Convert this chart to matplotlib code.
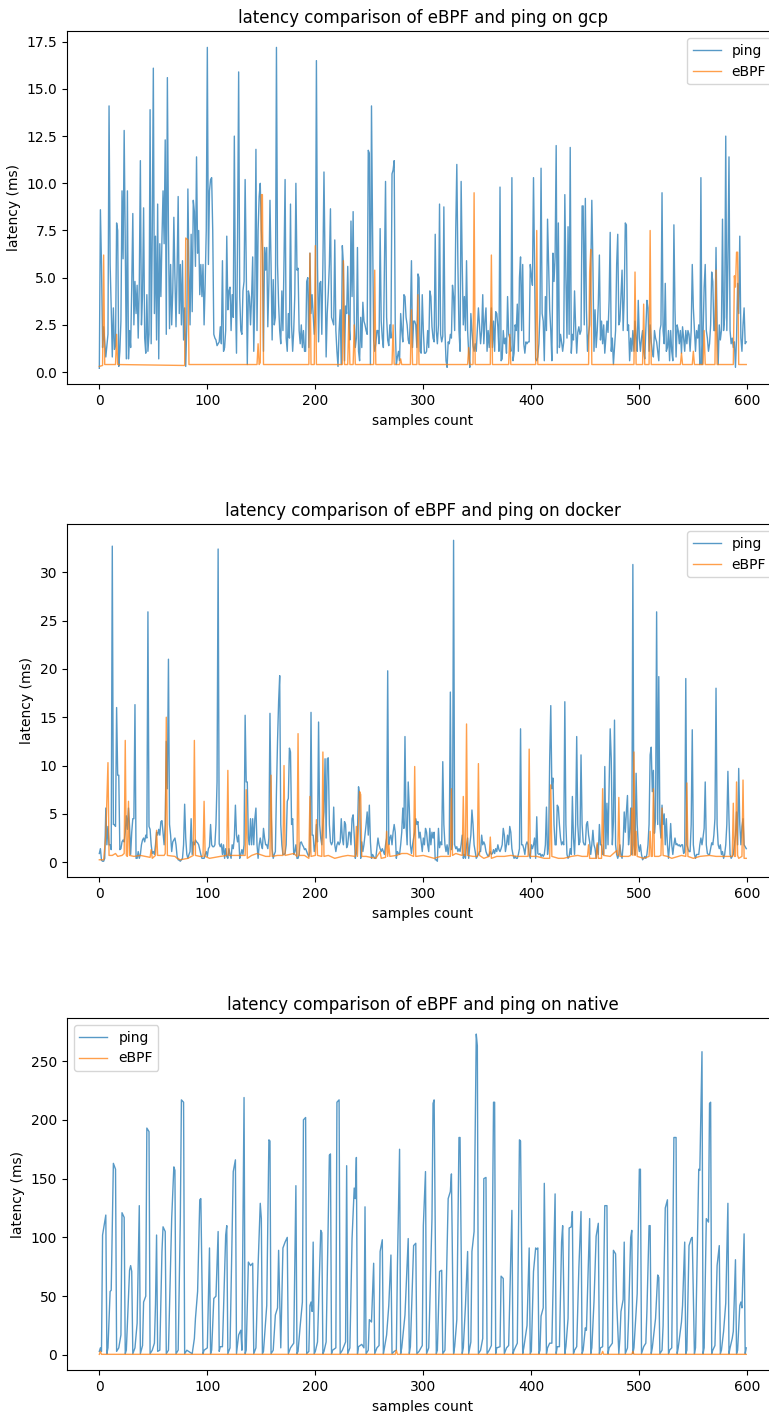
#!/usr/bin/env python3
"""
Latency comparison of eBPF and ping on three setups (gcp, docker, native).
"""

import numpy as np
import matplotlib
matplotlib.use('Agg')
import matplotlib.pyplot as plt


# gcp: ping latency per sample (ms)
GCP_PING = [
    0.2, 8.6, 5.7, 1.3, 2.4, 1.6, 0.8, 1.4, 2.0, 14.1,
    5.7, 3.4, 0.8, 3.4, 1.2, 1.4, 7.9, 7.5, 0.3, 1.1,
    2.7, 9.6, 6.0, 12.8, 6.8, 0.7, 9.6, 0.7, 2.2, 1.3,
    4.5, 8.4, 2.5, 4.8, 3.1, 4.6, 1.8, 4.7, 11.2, 2.5,
    4.1, 8.7, 1.8, 1.0, 4.1, 1.1, 2.0, 13.9, 1.5, 7.2,
    16.1, 3.1, 7.2, 1.7, 8.9, 0.7, 6.8, 4.0, 7.1, 9.6,
    6.8, 12.3, 2.0, 15.6, 7.5, 2.3, 5.7, 2.5, 4.3, 8.2,
    5.0, 2.4, 5.3, 9.3, 3.1, 5.7, 2.5, 5.9, 1.7, 3.4,
    0.3, 2.5, 9.7, 5.4, 2.5, 7.3, 3.2, 9.1, 8.5, 5.6,
    11.4, 6.3, 7.5, 4.1, 5.7, 4.0, 5.7, 2.5, 4.7, 7.5,
    17.2, 5.7, 9.6, 10.2, 10.3, 7.5, 2.0, 1.8, 1.7, 1.4,
    1.5, 1.6, 2.4, 1.5, 5.9, 1.1, 1.3, 2.2, 7.2, 3.3,
    4.3, 4.5, 2.2, 4.1, 2.9, 12.5, 4.0, 1.0, 7.2, 15.9,
    4.0, 2.2, 2.0, 4.3, 4.8, 10.2, 5.7, 0.4, 4.3, 4.0,
    2.5, 4.0, 6.1, 1.1, 4.1, 11.8, 2.2, 7.5, 9.3, 10.0,
    7.5, 6.4, 1.1, 6.6, 5.4, 6.6, 2.4, 4.7, 9.1, 5.7,
    1.7, 4.9, 2.5, 2.9, 17.2, 5.7, 3.6, 2.2, 1.5, 4.3,
    2.2, 5.9, 10.2, 1.8, 1.1, 3.1, 1.8, 8.9, 2.5, 1.1,
    2.2, 4.1, 10.0, 5.4, 5.5, 2.2, 1.5, 2.5, 1.3, 2.2,
    1.1, 1.1, 4.8, 5.0, 1.3, 6.3, 3.1, 4.1, 3.1, 2.0,
    3.0, 16.5, 5.7, 1.6, 4.7, 4.8, 2.0, 5.7, 10.6, 5.7,
    0.8, 3.1, 4.2, 5.7, 8.65, 2.9, 2.7, 2.5, 7.0, 2.2,
    1.1, 0.3, 2.2, 3.3, 0.4, 6.7, 5.7, 0.6, 3.5, 3.1,
    5.6, 2.7, 1.7, 8.0, 4.0, 8.5, 2.7, 1.3, 1.8, 6.6,
    1.1, 0.6, 2.9, 1.3, 3.7, 2.7, 2.5, 2.2, 2.0, 11.75,
    11.6, 0.4, 14.1, 7.5, 1.7, 1.1, 1.5, 2.2, 2.2, 1.5,
    7.6, 2.7, 1.8, 1.3, 5.7, 10.1, 2.9, 1.7, 1.4, 2.5,
    1.8, 10.5, 10.7, 11.2, 2.4, 0.4, 0.8, 1.1, 0.6, 3.1,
    2.2, 1.6, 4.1, 4.0, 2.9, 2.5, 1.7, 1.5, 2.9, 5.9,
    1.3, 2.7, 2.7, 2.5, 1.3, 5.2, 5.0, 1.1, 1.0, 4.1,
    2.2, 1.0, 1.0, 1.1, 2.2, 1.3, 4.3, 4.0, 2.4, 1.8,
    1.6, 7.3, 2.2, 1.5, 2.5, 8.9, 2.0, 1.6, 1.9, 8.75,
    2.2, 0.6, 0.25, 1.6, 1.5, 2.0, 1.8, 4.6, 4.0, 2.2,
    7.5, 11.0, 5.7, 2.2, 1.1, 10.1, 5.7, 2.5, 4.0, 2.2,
    5.9, 2.2, 1.0, 0.25, 3.1, 2.2, 1.4, 1.1, 1.5, 1.1,
    2.2, 3.4, 2.5, 1.5, 2.2, 4.1, 1.5, 2.7, 3.4, 1.1,
    2.2, 1.3, 2.4, 3.4, 1.3, 2.7, 1.1, 3.2, 3.1, 2.4,
    1.1, 9.8, 0.6, 0.7, 2.2, 1.5, 1.8, 1.0, 4.0, 2.0,
    1.8, 1.1, 10.3, 0.6, 1.0, 2.5, 2.2, 3.6, 1.1, 5.0,
    6.1, 2.2, 5.7, 1.5, 1.0, 1.6, 1.5, 1.6, 1.6, 5.7,
    5.1, 4.6, 10.3, 5.5, 0.7, 0.6, 0.8, 1.5, 3.1, 10.8,
    3.1, 2.7, 0.6, 4.0, 2.2, 8.1, 5.6, 3.3, 2.2, 0.6,
    6.3, 4.8, 6.1, 12.0, 1.0, 7.9, 1.3, 2.0, 1.6, 1.1,
    1.6, 9.4, 5.0, 1.8, 7.7, 2.0, 11.9, 1.0, 2.0, 1.7,
    4.3, 2.4, 1.0, 2.1, 2.4, 2.0, 2.2, 8.8, 8.8, 2.5,
    9.2, 3.3, 1.1, 2.0, 2.5, 5.4, 9.1, 5.7, 1.1, 3.3,
    1.3, 2.2, 3.6, 6.2, 1.7, 2.7, 1.5, 2.5, 1.0, 1.8,
    2.7, 2.1, 3.8, 7.4, 1.1, 1.8, 0.4, 1.3, 2.2, 5.7,
    7.3, 2.5, 2.7, 4.0, 5.4, 2.2, 4.0, 7.9, 7.8, 2.2,
    2.5, 0.6, 1.8, 1.1, 2.2, 1.1, 2.7, 1.8, 1.1, 3.8,
    1.8, 1.1, 1.8, 2.2, 1.1, 0.7, 2.2, 3.8, 3.4, 1.1,
    2.5, 1.6, 1.1, 0.8, 2.2, 1.8, 1.6, 1.1, 0.6, 2.2,
    2.5, 9.5, 2.2, 1.5, 4.7, 1.1, 1.3, 2.2, 0.6, 2.2,
    1.1, 0.6, 7.8, 3.3, 0.8, 2.5, 2.2, 1.5, 2.2, 1.0,
    2.4, 1.8, 1.1, 2.2, 1.5, 2.2, 2.0, 1.1, 2.2, 5.7,
    3.4, 2.2, 1.1, 2.2, 1.8, 2.5, 0.4, 10.3, 0.4, 2.0,
    4.5, 5.7, 2.2, 1.8, 1.1, 1.5, 2.5, 5.3, 4.8, 2.2,
    2.2, 6.6, 2.2, 0.4, 2.5, 1.7, 2.2, 8.1, 2.2, 2.9,
    12.5, 2.2, 5.7, 11.4, 2.2, 1.5, 1.8, 1.3, 1.6, 0.25,
    1.8, 4.7, 3.1, 7.2, 1.8, 1.1, 2.5, 3.4, 1.5, 1.6,
]

# gcp: eBPF latency, sample index and value where the trace changes
GCP_EBPF_X = [
    0, 3, 4, 5, 15, 16, 17, 79, 80, 82, 83, 146, 147, 148, 149, 150, 151,
    152, 194, 195, 196, 199, 200, 201, 225, 226, 227, 230, 231, 232, 235,
    236, 237, 254, 255, 256, 271, 272, 273, 278, 279, 280, 288, 289, 290,
    294, 295, 296, 341, 342, 343, 346, 347, 348, 362, 363, 364, 379, 380,
    381, 404, 405, 406, 453, 454, 455, 456, 495, 496, 497, 503, 504, 505,
    509, 510, 511, 538, 539, 540, 549, 550, 551, 559, 560, 561, 570, 571,
    572, 587, 588, 589, 590, 591, 592, 599,
]
GCP_EBPF_Y = [
    0.3, 0.35, 6.2, 0.4, 0.4, 2.0, 0.4, 0.35, 7.1, 7.0, 0.4, 0.4, 1.5, 0.4,
    0.5, 9.4, 9.4, 0.4, 0.4, 6.3, 0.4, 0.4, 6.7, 0.4, 0.4, 5.9, 0.4, 0.4,
    3.0, 0.4, 0.4, 2.5, 0.4, 0.4, 5.4, 0.4, 0.4, 2.5, 0.4, 0.4, 0.7, 0.4,
    0.4, 3.3, 0.4, 0.4, 4.1, 0.4, 0.4, 1.3, 0.4, 0.4, 9.5, 0.4, 0.4, 6.2,
    0.4, 0.4, 2.0, 0.4, 0.4, 7.5, 0.4, 0.4, 5.3, 6.5, 0.4, 0.4, 5.3, 0.4,
    0.4, 3.6, 0.4, 0.4, 7.5, 0.4, 0.4, 1.0, 0.4, 0.4, 1.1, 0.4, 0.4, 2.2,
    0.4, 0.4, 5.4, 0.4, 0.4, 5.1, 4.5, 6.35, 6.35, 0.4, 0.4,
]

# docker: ping latency per sample (ms)
DOCKER_PING = [
    0.9, 1.4, 0.2, 0.1, 0.1, 0.4, 5.6, 1.8, 3.7, 1.8,
    1.8, 1.3, 32.7, 3.9, 3.9, 3.7, 16.0, 9.0, 9.0, 1.3,
    1.4, 2.1, 2.3, 2.1, 3.1, 4.8, 3.4, 5.6, 3.7, 0.8,
    3.1, 4.5, 4.5, 16.3, 0.4, 0.4, 1.1, 0.4, 0.8, 1.8,
    2.3, 2.5, 2.1, 2.8, 2.5, 25.9, 3.7, 3.4, 1.8, 0.9,
    1.1, 0.8, 1.8, 3.1, 2.8, 3.4, 2.8, 4.2, 4.3, 3.1,
    1.8, 3.9, 12.5, 7.6, 21.0, 3.9, 2.8, 1.1, 2.1, 2.3,
    2.5, 1.8, 0.6, 0.25, 0.2, 0.1, 0.25, 0.4, 1.8, 6.0,
    2.5, 0.8, 0.4, 0.8, 1.1, 4.5, 0.8, 2.1, 1.8, 2.3,
    2.1, 2.0, 1.8, 1.3, 0.8, 0.4, 0.4, 0.4, 0.8, 1.1,
    0.6, 1.4, 1.6, 3.9, 1.8, 1.6, 1.6, 1.8, 3.9, 8.3,
    32.4, 1.9, 1.6, 1.9, 0.8, 1.8, 0.4, 1.4, 0.6, 0.4,
    1.4, 0.8, 0.4, 1.8, 1.4, 2.5, 5.9, 2.8, 2.1, 2.8,
    0.4, 0.8, 1.3, 0.8, 1.8, 15.2, 8.3, 8.3, 2.5, 1.8,
    4.5, 1.8, 4.5, 1.8, 4.5, 5.6, 1.8, 0.4, 1.8, 2.5,
    1.8, 1.4, 3.5, 2.5, 1.8, 1.8, 1.4, 2.5, 15.4, 5.6,
    1.4, 0.4, 0.8, 1.1, 7.3, 12.5, 16.6, 19.3, 3.9, 1.8,
    0.8, 0.8, 0.9, 1.8, 6.3, 6.6, 11.8, 11.4, 3.9, 4.5,
    0.8, 1.1, 1.8, 0.4, 0.4, 0.8, 2.0, 2.1, 1.8, 1.6,
    1.3, 1.4, 1.1, 0.8, 0.6, 1.1, 15.5, 2.8, 2.8, 1.1,
    1.8, 3.9, 2.1, 14.5, 3.9, 2.5, 1.8, 3.9, 5.2, 10.7,
    2.5, 10.7, 10.8, 3.9, 2.1, 1.8, 2.1, 5.7, 1.8, 1.1,
    1.8, 2.1, 1.8, 2.1, 4.5, 2.5, 1.8, 4.2, 3.9, 1.5,
    1.8, 3.1, 3.1, 1.8, 4.5, 4.9, 2.8, 0.4, 0.9, 3.1,
    7.8, 6.9, 0.4, 2.1, 1.1, 1.8, 2.8, 3.9, 5.2, 2.8,
    5.9, 2.1, 0.4, 0.8, 0.6, 0.4, 0.4, 1.4, 2.5, 1.8,
    1.4, 1.1, 1.4, 1.1, 0.8, 1.8, 2.5, 19.8, 1.8, 2.5,
    2.8, 1.8, 3.1, 3.9, 3.1, 0.4, 1.1, 0.9, 0.8, 1.8,
    3.1, 5.6, 3.5, 13.0, 3.9, 1.8, 8.3, 5.6, 1.8, 0.9,
    1.8, 2.5, 3.1, 4.5, 3.9, 4.2, 2.5, 3.1, 2.1, 1.1,
    2.5, 1.8, 3.5, 3.1, 1.8, 1.1, 3.5, 1.8, 3.1, 2.5,
    3.1, 0.25, 0.25, 0.1, 3.5, 1.5, 2.1, 1.8, 10.4, 3.9,
    1.8, 1.1, 1.8, 0.8, 1.8, 17.6, 1.3, 1.8, 33.3, 1.8,
    1.4, 1.6, 1.1, 1.4, 1.1, 1.8, 2.8, 0.4, 0.8, 0.4,
    1.8, 2.5, 0.4, 1.8, 2.8, 5.4, 3.9, 1.8, 1.1, 0.4,
    0.6, 0.8, 1.1, 1.1, 2.8, 1.8, 2.1, 1.8, 1.1, 0.8,
    0.6, 0.8, 1.1, 0.8, 0.9, 1.3, 0.9, 1.4, 1.1, 1.8,
    1.3, 1.1, 1.4, 1.8, 3.5, 2.8, 1.1, 1.8, 2.8, 1.8,
    3.7, 3.1, 1.4, 0.8, 0.4, 0.6, 0.4, 0.4, 0.8, 1.4,
    13.8, 1.8, 1.8, 1.4, 0.8, 1.8, 2.1, 1.8, 0.8, 0.4,
    1.8, 1.4, 1.8, 2.5, 0.4, 4.7, 0.9, 0.8, 0.9, 0.6,
    0.8, 0.6, 0.8, 1.8, 5.7, 0.8, 1.8, 10.7, 16.2, 7.6,
    8.7, 3.9, 1.8, 1.8, 5.9, 5.7, 3.9, 2.5, 1.8, 2.1,
    1.8, 16.6, 3.9, 0.8, 0.4, 0.6, 1.4, 0.8, 6.8, 2.5,
    0.8, 3.9, 13.0, 3.9, 1.8, 2.1, 11.1, 3.9, 2.1, 1.8,
    1.8, 3.9, 4.2, 2.8, 2.1, 0.8, 1.8, 3.3, 1.8, 1.4,
    0.4, 1.8, 0.8, 3.9, 1.8, 1.8, 0.8, 0.8, 9.9, 1.4,
    6.1, 1.8, 8.0, 13.8, 10.7, 1.8, 4.2, 14.7, 1.8, 0.8,
    0.4, 0.8, 1.8, 0.8, 0.4, 1.8, 5.2, 3.1, 5.2, 6.9,
    1.8, 3.1, 5.6, 0.8, 30.8, 1.8, 0.8, 9.2, 3.9, 1.8,
    1.1, 1.8, 0.8, 0.25, 0.4, 0.6, 0.4, 0.8, 1.8, 3.9,
    11.1, 11.9, 7.3, 9.5, 3.0, 4.5, 25.9, 3.9, 19.2, 3.9,
    2.5, 5.9, 3.9, 5.0, 1.8, 4.5, 1.8, 0.4, 1.8, 4.0,
    1.8, 0.8, 1.8, 2.5, 1.8, 1.9, 1.7, 1.8, 1.6, 1.8,
    1.8, 0.9, 1.1, 19.0, 1.8, 1.4, 1.1, 1.1, 3.9, 13.7,
    1.8, 0.8, 0.4, 0.8, 0.8, 0.8, 1.8, 2.5, 1.8, 2.6,
    3.5, 8.3, 1.8, 0.9, 0.8, 0.8, 1.4, 2.0, 1.8, 2.8,
    4.5, 18.0, 3.9, 1.8, 1.4, 1.8, 0.8, 1.1, 0.4, 0.8,
    1.8, 3.9, 9.4, 4.5, 0.8, 0.4, 0.6, 0.8, 1.8, 2.8,
    5.2, 1.8, 9.7, 3.9, 1.8, 3.7, 4.5, 1.8, 1.6, 1.4,
]

# docker: eBPF latency, sample index and value where the trace changes
DOCKER_EBPF_X = [
    0, 4, 6, 8, 9, 12, 15, 17, 21, 23, 24, 25, 26, 27, 28, 32, 38, 47, 48,
    49, 52, 53, 54, 60, 61, 62, 63, 70, 72, 75, 82, 87, 88, 89, 93, 96, 97,
    98, 102, 112, 118, 119, 120, 130, 135, 136, 137, 141, 146, 154, 158,
    159, 160, 165, 170, 171, 172, 180, 183, 184, 185, 190, 194, 195, 196,
    200, 201, 202, 206, 207, 208, 212, 218, 225, 230, 237, 238, 239, 241,
    242, 243, 247, 256, 260, 261, 265, 266, 267, 268, 269, 275, 280, 285,
    291, 292, 293, 300, 310, 316, 325, 326, 327, 330, 336, 337, 338, 339,
    340, 341, 346, 350, 351, 352, 356, 361, 362, 363, 368, 375, 381, 387,
    393, 397, 398, 399, 405, 412, 417, 418, 419, 425, 430, 437, 443, 447,
    452, 453, 454, 460, 461, 462, 465, 466, 467, 473, 479, 480, 481, 482,
    490, 492, 493, 494, 495, 496, 497, 498, 504, 509, 510, 511, 512, 513,
    514, 518, 520, 521, 522, 526, 530, 539, 543, 544, 545, 550, 556, 565,
    571, 580, 586, 587, 588, 589, 590, 591, 592, 595, 596, 597, 599,
]
DOCKER_EBPF_Y = [
    0.25, 0.25, 2.8, 10.3, 0.7, 0.7, 0.9, 0.6, 0.7, 0.9, 12.6, 0.7, 0.6,
    6.3, 0.7, 0.6, 0.7, 0.5, 1.3, 0.4, 0.7, 3.3, 0.7, 0.7, 0.9, 15.0, 0.7,
    0.6, 0.4, 0.25, 0.4, 0.7, 12.6, 0.7, 0.6, 0.6, 6.3, 0.6, 0.4, 0.6, 0.7,
    9.5, 0.7, 0.7, 0.7, 7.5, 0.4, 0.7, 0.9, 0.6, 0.6, 9.0, 0.6, 0.7, 0.7,
    10.0, 0.7, 0.9, 0.6, 13.3, 0.7, 0.7, 0.4, 6.8, 0.6, 0.7, 4.4, 0.7, 0.6,
    11.4, 0.6, 0.7, 0.4, 0.6, 0.7, 0.6, 3.7, 0.6, 7.3, 7.0, 0.6, 0.6, 0.4,
    1.1, 0.4, 0.5, 3.2, 0.6, 1.8, 0.6, 0.7, 0.9, 0.9, 0.6, 9.9, 0.6, 0.7,
    0.4, 0.6, 0.6, 7.6, 0.7, 0.9, 0.7, 6.8, 0.7, 0.7, 14.3, 0.7, 0.6, 0.6,
    10.2, 0.7, 0.4, 0.6, 2.6, 0.4, 0.6, 0.6, 0.7, 0.6, 0.6, 0.6, 11.7, 0.6,
    0.6, 0.4, 0.4, 8.0, 0.6, 0.4, 0.4, 0.6, 0.7, 0.6, 0.6, 1.8, 0.4, 0.4,
    2.0, 0.4, 0.4, 7.6, 0.7, 0.6, 1.2, 0.7, 6.7, 0.6, 0.6, 0.7, 5.6, 0.7,
    11.4, 0.7, 3.2, 0.6, 0.4, 0.6, 3.2, 0.6, 0.6, 7.6, 0.6, 0.6, 0.7, 5.6,
    0.7, 0.6, 0.4, 0.7, 0.6, 8.2, 0.6, 0.4, 0.6, 0.7, 0.6, 0.6, 0.6, 6.1,
    0.6, 0.6, 8.3, 0.7, 0.4, 0.6, 8.5, 0.4, 0.4,
]

# native: ping latency, sample index and value at each turning point
NATIVE_PING_X = [
    0, 1, 2, 3, 6, 7, 8, 10, 11, 13, 15, 16, 18, 20, 21, 23, 24, 25, 28, 29,
    30, 31, 33, 35, 37, 38, 40, 41, 43, 44, 46, 47, 49, 51, 52, 53, 54, 56,
    58, 59, 61, 62, 64, 67, 69, 70, 71, 73, 75, 76, 78, 79, 81, 86, 88, 89,
    91, 93, 94, 96, 97, 100, 102, 103, 104, 106, 108, 110, 111, 112, 114,
    117, 118, 119, 121, 124, 126, 127, 129, 131, 132, 134, 135, 136, 138,
    140, 142, 143, 145, 147, 149, 150, 151, 152, 155, 157, 158, 159, 161,
    163, 165, 166, 168, 170, 172, 174, 175, 177, 180, 182, 183, 184, 186,
    188, 189, 191, 192, 194, 195, 196, 197, 198, 199, 200, 202, 205, 206,
    207, 208, 210, 212, 213, 214, 215, 216, 219, 220, 222, 223, 225, 228,
    229, 230, 232, 234, 236, 237, 238, 239, 240, 243, 245, 246, 247, 249,
    250, 252, 254, 255, 257, 259, 260, 262, 263, 264, 266, 268, 270, 271,
    273, 275, 276, 278, 279, 280, 283, 286, 287, 288, 291, 293, 294, 296,
    299, 300, 302, 303, 305, 308, 309, 310, 312, 313, 315, 317, 318, 320,
    323, 325, 326, 328, 329, 331, 333, 334, 336, 337, 339, 341, 342, 344,
    345, 347, 349, 350, 351, 353, 355, 356, 358, 359, 361, 363, 365, 366,
    367, 368, 371, 372, 374, 375, 377, 379, 382, 383, 384, 387, 389, 390,
    392, 393, 396, 398, 399, 400, 402, 404, 405, 406, 407, 408, 409, 411,
    412, 414, 415, 417, 419, 422, 423, 424, 426, 428, 429, 431, 432, 434,
    435, 437, 438, 439, 440, 442, 444, 446, 447, 448, 450, 451, 454, 455,
    456, 458, 460, 462, 463, 464, 466, 468, 470, 471, 472, 475, 476, 478,
    479, 481, 482, 483, 485, 486, 487, 489, 490, 492, 493, 494, 495, 498,
    500, 501, 502, 504, 506, 507, 509, 510, 511, 512, 515, 517, 518, 519,
    521, 522, 524, 526, 527, 528, 530, 532, 534, 535, 536, 539, 540, 542,
    543, 544, 546, 548, 549, 551, 552, 555, 556, 558, 559, 560, 562, 564,
    565, 566, 567, 568, 570, 572, 574, 575, 576, 578, 580, 582, 583, 584,
    586, 587, 589, 590, 591, 593, 594, 595, 597, 598, 599,
]
NATIVE_PING_Y = [
    3, 6, 3, 102, 119, 1, 6, 54, 55, 163, 158, 3, 6, 17, 121, 117, 1, 4, 72,
    76, 71, 1, 6, 27, 127, 1, 8, 45, 50, 193, 190, 1, 4, 10, 43, 102, 3, 4,
    88, 109, 105, 1, 4, 116, 160, 157, 1, 4, 116, 217, 215, 1, 4, 1, 14, 31,
    54, 132, 133, 1, 4, 6, 91, 1, 4, 48, 50, 105, 3, 7, 7, 102, 110, 1, 6,
    156, 166, 1, 17, 21, 4, 219, 1, 4, 79, 76, 78, 1, 6, 76, 129, 116, 1, 3,
    42, 183, 182, 1, 4, 34, 40, 89, 6, 91, 96, 100, 1, 6, 10, 144, 1, 3, 25,
    45, 200, 202, 1, 3, 42, 45, 37, 96, 1, 3, 11, 106, 104, 1, 3, 11, 116,
    170, 171, 1, 4, 6, 215, 217, 1, 4, 11, 161, 1, 6, 99, 142, 133, 168, 1,
    7, 9, 6, 126, 1, 4, 30, 28, 78, 1, 6, 8, 88, 98, 1, 6, 17, 42, 85, 1, 3,
    4, 75, 175, 1, 6, 34, 99, 1, 7, 93, 95, 1, 3, 8, 110, 156, 1, 6, 116,
    214, 217, 1, 4, 71, 72, 1, 4, 133, 139, 154, 1, 7, 30, 185, 185, 1, 6,
    42, 88, 1, 11, 88, 105, 273, 263, 1, 4, 14, 150, 151, 1, 4, 8, 215, 215,
    1, 6, 7, 67, 65, 1, 6, 8, 123, 1, 4, 10, 183, 182, 1, 6, 25, 91, 1, 3,
    71, 91, 90, 91, 1, 4, 33, 40, 146, 1, 6, 10, 10, 137, 1, 7, 7, 96, 110,
    1, 7, 31, 108, 109, 122, 1, 4, 7, 74, 122, 1, 4, 23, 21, 116, 1, 6, 45,
    101, 112, 1, 6, 7, 127, 127, 1, 6, 10, 89, 86, 45, 1, 14, 37, 47, 96, 1,
    6, 31, 100, 106, 1, 6, 52, 158, 158, 1, 7, 10, 37, 110, 110, 1, 6, 31,
    68, 66, 1, 4, 25, 125, 132, 1, 4, 6, 185, 185, 1, 6, 28, 42, 96, 1, 4,
    93, 99, 100, 1, 6, 158, 157, 258, 1, 6, 116, 113, 214, 215, 1, 4, 8, 76,
    93, 1, 4, 20, 44, 129, 1, 6, 14, 20, 81, 1, 4, 42, 45, 40, 103, 1, 6,
]

# native: eBPF latency, sample index and value where the trace changes
NATIVE_EBPF_X = [0, 1, 2, 274, 275, 276, 465, 466, 467, 493, 494, 495, 599]
NATIVE_EBPF_Y = [0.5, 3.0, 0.5, 0.5, 4.0, 0.5, 0.5, 3.0, 0.5, 0.5, 3.0, 0.5, 0.5]

TITLES = [
    'latency comparison of eBPF and ping on gcp',
    'latency comparison of eBPF and ping on docker',
    'latency comparison of eBPF and ping on native',
]
LEGEND_LOCS = ['upper right', 'upper right', 'upper left']


def draw_panel(ax, ping_x, ping_y, ebpf_x, ebpf_y, title, legend_loc):
    """Plot one ping/eBPF latency comparison."""
    ax.plot(ping_x, ping_y, color='#1f77b4', linewidth=1.0, alpha=0.75,
            label='ping')
    ax.plot(ebpf_x, ebpf_y, color='#ff7f0e', linewidth=1.0, alpha=0.75,
            label='eBPF')
    ax.set_title(title)
    ax.set_xlabel('samples count')
    ax.set_ylabel('latency (ms)')
    ax.legend(loc=legend_loc)


def main():
    fig = plt.figure(figsize=(7.69, 14.12), dpi=100)

    # axes run past the right edge of the canvas, as in the original crop
    ax_gcp = fig.add_axes([0.0871, 0.7278, 0.9254, 0.2500])
    ax_docker = fig.add_axes([0.0871, 0.3787, 0.9254, 0.2500])
    ax_native = fig.add_axes([0.0871, 0.0295, 0.9254, 0.2495])

    draw_panel(ax_gcp, np.arange(len(GCP_PING)), GCP_PING,
               GCP_EBPF_X, GCP_EBPF_Y, TITLES[0], LEGEND_LOCS[0])
    draw_panel(ax_docker, np.arange(len(DOCKER_PING)), DOCKER_PING,
               DOCKER_EBPF_X, DOCKER_EBPF_Y, TITLES[1], LEGEND_LOCS[1])
    draw_panel(ax_native, NATIVE_PING_X, NATIVE_PING_Y,
               NATIVE_EBPF_X, NATIVE_EBPF_Y, TITLES[2], LEGEND_LOCS[2])

    fig.savefig('out.png', dpi=100)


if __name__ == '__main__':
    main()
